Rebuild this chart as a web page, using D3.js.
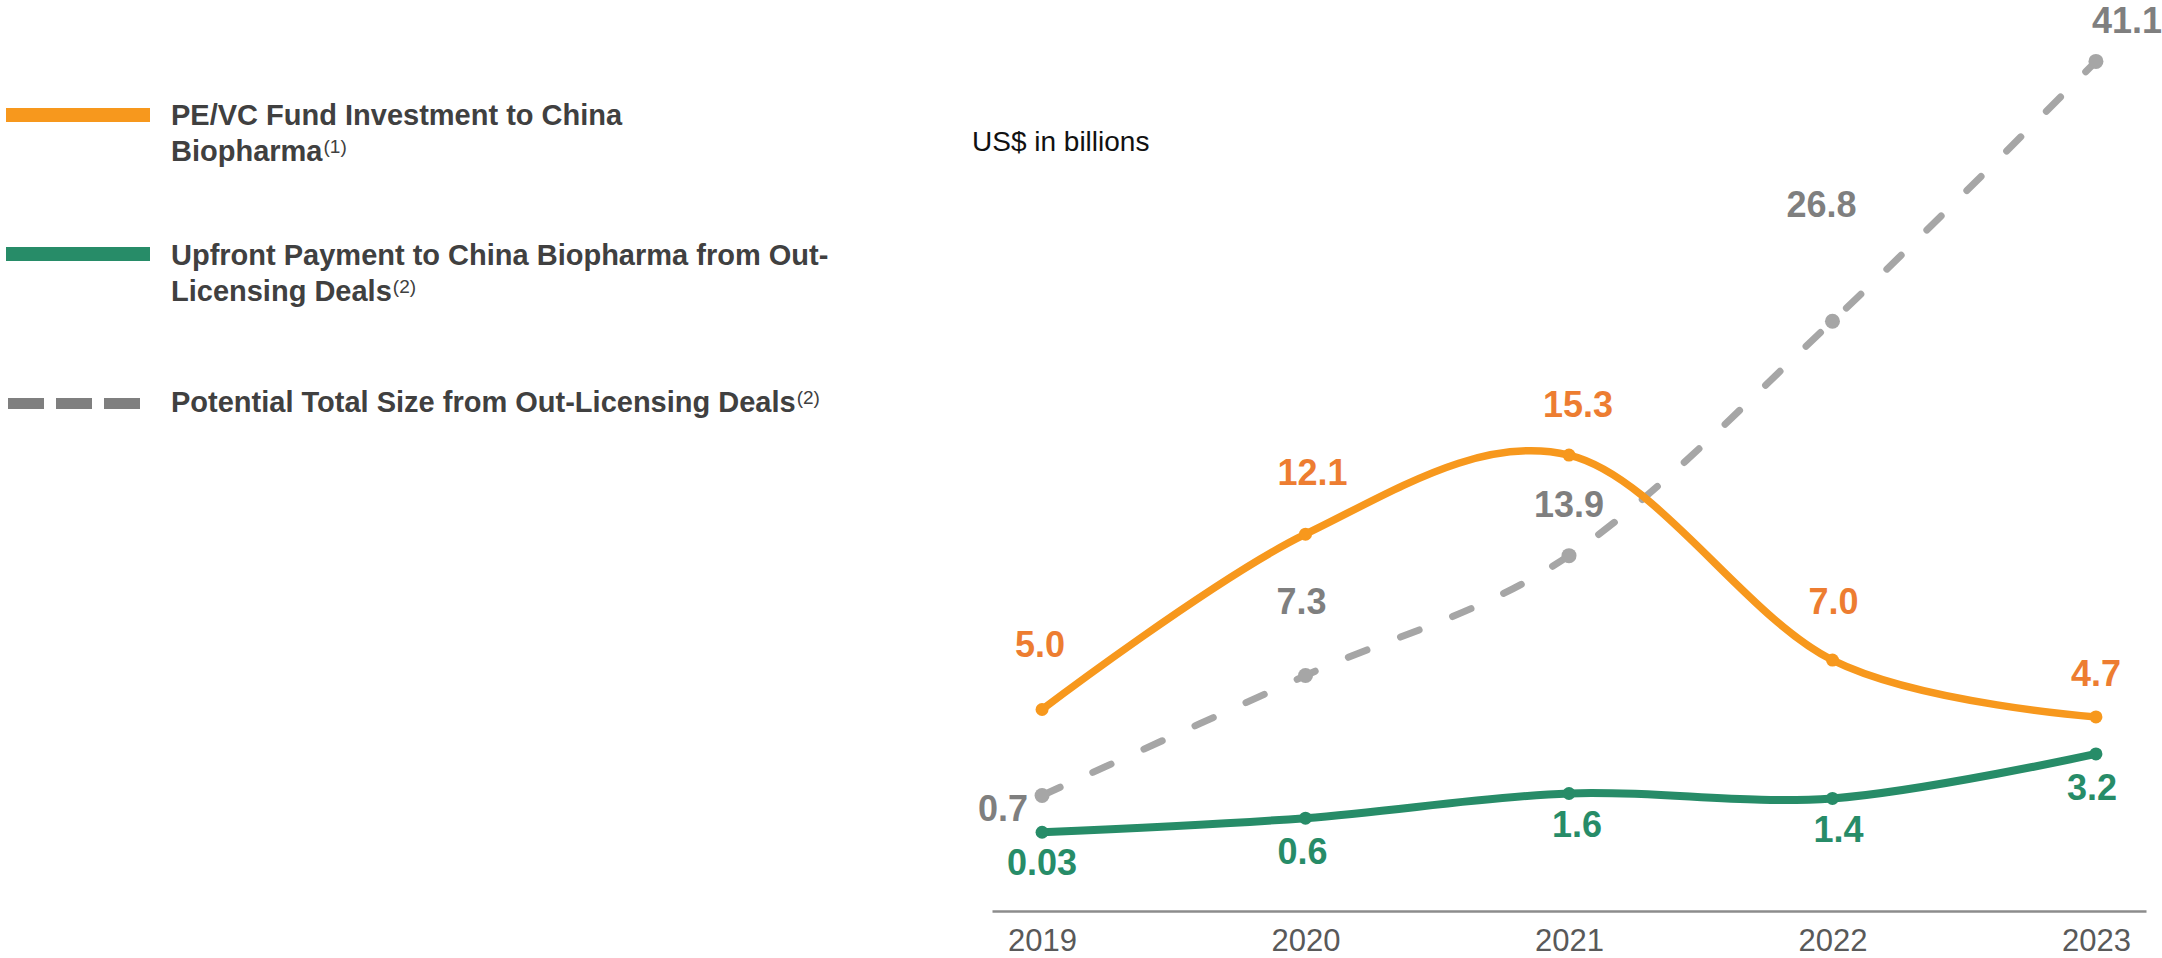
<!DOCTYPE html>
<html>
<head>
<meta charset="utf-8">
<script src="https://cdn.jsdelivr.net/npm/d3@7"></script>
<style>
  html, body { margin: 0; padding: 0; background: #ffffff; }
  svg { display: block; font-family: "Liberation Sans", Arial, sans-serif; }
</style>
</head>
<body>
<svg id="chart" width="2162" height="958"></svg>
<script>
// ---- data ----
const years = ["2019", "2020", "2021", "2022", "2023"];
const peVcInvestment = [5.0, 12.1, 15.3, 7.0, 4.7];
const peVcLabels = ["5.0", "12.1", "15.3", "7.0", "4.7"];
const upfrontPayment = [0.03, 0.6, 1.6, 1.4, 3.2];
const upfrontLabels = ["0.03", "0.6", "1.6", "1.4", "3.2"];
const potentialTotal = [0.7, 7.3, 13.9, 26.8, 41.1];
const potentialLabels = ["0.7", "7.3", "13.9", "26.8", "41.1"];
const unitLabel = "US$ in billions";

const legendItems = [
  { lines: ["PE/VC Fund Investment to China", "Biopharma"], note: "(1)", key: "pe" },
  { lines: ["Upfront Payment to China Biopharma from Out-", "Licensing Deals"], note: "(2)", key: "up" },
  { lines: ["Potential Total Size from Out-Licensing Deals"], note: "(2)", key: "pot" }
];

// ---- layout / style ----
const C = {
  orange: "#F7981D", orangeText: "#ED7D31",
  green: "#278C68",
  gray: "#A6A6A6", grayText: "#7F7F7F", grayLegend: "#7F7F7F",
  legendText: "#404040", axis: "#8C8C8C", tick: "#595959"
};
// label offsets relative to each point: [dx, dy(baseline)]
const peOff = [[-2, -53], [7, -49], [9, -38], [1, -46], [0, -31]];
const upOff = [[0, 43], [-3, 46], [8, 44], [6, 44], [-4, 46]];
const potOff = [[-14, 26], [-4, -62], [0, -39], [-11, -104], [31, -28]];
const potAnchor = ["end", "middle", "middle", "middle", "middle"];

const svg = d3.select("#chart");

const x = d3.scalePoint().domain(years).range([992, 2146]).padding(0.19);
const y = d3.scaleLinear().domain([0, 20]).range([833, 339]);
const y2 = d3.scaleLinear().domain([0, 45]).range([808.2, 808.2 - 45 * 18.17]);

// axis
const axis = d3.axisBottom(x).tickSize(0).tickPadding(18);
const gx = svg.append("g").attr("transform", "translate(0,911)").call(axis);
gx.select(".domain").attr("stroke", C.axis).attr("stroke-width", 2.5);
gx.selectAll("text").attr("font-size", 31).attr("fill", C.tick)
  .attr("font-family", "'Liberation Sans', Arial, sans-serif");

// unit label
svg.append("text").attr("x", 972).attr("y", 151).attr("font-size", 28)
  .attr("fill", "#111").text(unitLabel);

const curve = d3.curveCardinal.tension(0);

function series(values, yScale, color, width, dash, r) {
  const pts = values.map((v, i) => [x(years[i]), yScale(v)]);
  const line = d3.line().curve(curve);
  const p = svg.append("path").attr("d", line(pts)).attr("fill", "none")
    .attr("stroke", color).attr("stroke-width", width).attr("stroke-linecap", dash ? "round" : "butt");
  if (dash) p.attr("stroke-dasharray", dash);
  svg.append("g").selectAll("circle").data(pts).join("circle")
    .attr("cx", d => d[0]).attr("cy", d => d[1]).attr("r", r).attr("fill", color);
  return pts;
}

const potPts = series(potentialTotal, y2, C.gray, 7, "20,36", 7.5);
const pePts = series(peVcInvestment, y, C.orange, 7.5, null, 6.5);
const upPts = series(upfrontPayment, y, C.green, 8, null, 6.5);

function labels(pts, texts, offs, color, anchors) {
  svg.append("g").selectAll("text").data(pts).join("text")
    .attr("x", (d, i) => d[0] + offs[i][0])
    .attr("y", (d, i) => d[1] + offs[i][1])
    .attr("text-anchor", (d, i) => anchors ? anchors[i] : "middle")
    .attr("font-size", 36).attr("font-weight", "bold").attr("fill", color)
    .text((d, i) => texts[i]);
}
labels(pePts, peVcLabels, peOff, C.orangeText);
labels(upPts, upfrontLabels, upOff, C.green);
labels(potPts, potentialLabels, potOff, C.grayText, potAnchor);

// legend
const legY = [125, 265, 412];
const keyY = [115, 254, 403.5];
const lg = svg.append("g");
legendItems.forEach((it, k) => {
  if (it.key === "pot") {
    lg.append("line").attr("x1", 8).attr("x2", 141).attr("y1", keyY[k]).attr("y2", keyY[k])
      .attr("stroke", C.grayLegend).attr("stroke-width", 11).attr("stroke-dasharray", "36,12");
  } else {
    lg.append("line").attr("x1", 6).attr("x2", 150).attr("y1", keyY[k]).attr("y2", keyY[k])
      .attr("stroke", it.key === "pe" ? C.orange : C.green).attr("stroke-width", 14);
  }
  const t = lg.append("text").attr("x", 171).attr("y", legY[k])
    .attr("font-size", 29).attr("font-weight", "bold").attr("fill", C.legendText);
  it.lines.forEach((ln, j) => {
    t.append("tspan").attr("x", 171).attr("y", legY[k] + j * 36).text(ln);
  });
  t.append("tspan").attr("dy", -8).attr("dx", 1).attr("font-size", 19).attr("font-weight", "normal").text(it.note);
});
</script>
</body>
</html>
